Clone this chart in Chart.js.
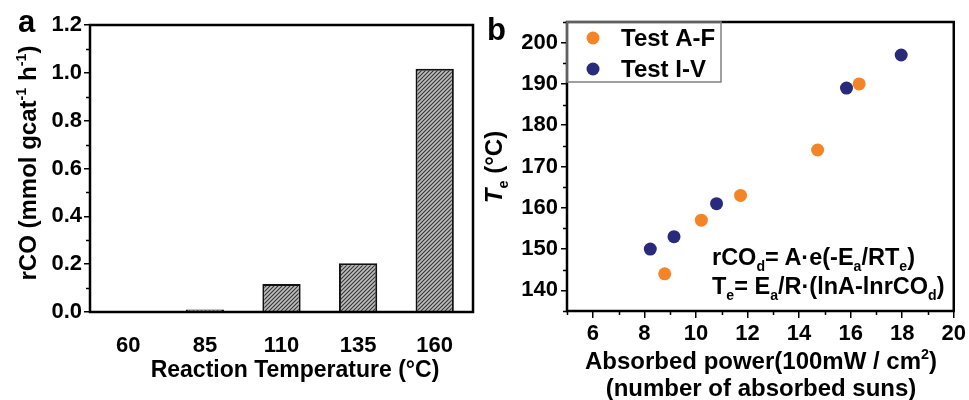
<!DOCTYPE html>
<html>
<head>
<meta charset="utf-8">
<script src="https://cdn.jsdelivr.net/npm/chart.js@4.4.0/dist/chart.umd.min.js"></script>
<style>
  body { margin: 0; background: #fff; }
  #wrap { position: relative; width: 969px; height: 400px; overflow: hidden;
          font-family: 'Liberation Sans', Arial, sans-serif; font-weight: bold; color: #000; }
  canvas { position: absolute; top: 0; }
  #chartA { left: 0; }
  #chartB { left: 480px; }
  .lbl { position: absolute; white-space: nowrap; line-height: 1; }
  .c { transform: translate(-50%, -50%); text-align: center; }
  .r { transform: translate(-50%, -50%) rotate(-90deg); }
  sup { font-size: 0.6em; vertical-align: 0.7em; line-height: 0; }
  sub { font-size: 0.6em; vertical-align: -0.45em; line-height: 0; }
</style>
</head>
<body>
<div id="wrap">
  <canvas id="chartA" width="480" height="400"></canvas>
  <canvas id="chartB" width="489" height="400"></canvas>

  <div class="lbl" style="left:18px; top:6px; font-size:31px;">a</div>
  <div class="lbl r" style="left:28px; top:163px; font-size:24px;">rCO (mmol gcat<sup>-1</sup> h<sup>-1</sup>)</div>
  <div class="lbl c" style="left:295px; top:369px; font-size:23px;">Reaction Temperature (°C)</div>

  <div class="lbl" style="left:487px; top:14px; font-size:31px;">b</div>
  <div class="lbl r" style="left:494px; top:167px; font-size:24px;"><i>T</i><sub>e</sub> (°C)</div>
  <div class="lbl c" style="left:761px; top:374px; font-size:24px; line-height:27px;">Absorbed power(100mW / cm<sup>2</sup>)<br>(number of absorbed suns)</div>
  <div class="lbl" style="left:712px; top:243px; font-size:23.5px; line-height:29px;">rCO<sub>d</sub>= A·e(-E<sub>a</sub>/RT<sub>e</sub>)<br>T<sub>e</sub>= E<sub>a</sub>/R·(lnA-lnrCO<sub>d</sub>)</div>
</div>

<script>
// panel a: CO production rate vs reaction temperature
const temps = ['60', '85', '110', '135', '160'];
const rco = [0, 0.01, 0.117, 0.204, 1.017];
const rcoTicks = [0, 0.2, 0.4, 0.6, 0.8, 1.0, 1.2];

// panel b: equilibrium temperature vs absorbed power
const testAFPower = [8.79, 10.21, 11.73, 14.72, 16.33];
const testAFTemp = [144, 157, 163, 174, 190];
const testIVPower = [8.23, 9.15, 10.80, 15.84, 17.96];
const testIVTemp = [150, 153, 161, 189, 197];
const powerTicks = [6, 8, 10, 12, 14, 16, 18, 20];
const teTicks = [140, 150, 160, 170, 180, 190, 200];

const FONT = "'Liberation Sans', Arial, sans-serif";
const tickFont = { family: FONT, size: 22, weight: 'bold' };

function hatchPattern() {
    const c = document.createElement('canvas');
    c.width = c.height = 4;
    const g = c.getContext('2d');
    g.fillStyle = '#bdbdbd';
    g.fillRect(0, 0, 4, 4);
    g.strokeStyle = '#333';
    g.lineWidth = 1.1;
    g.beginPath();
    g.moveTo(0, 4); g.lineTo(4, 0);
    g.moveTo(-1, 1); g.lineTo(1, -1);
    g.moveTo(3, 5); g.lineTo(5, 3);
    g.stroke();
    return g.createPattern(c, 'repeat');
}

// midpoints between major ticks
function minors(ticks) {
    const out = [];
    for (let i = 0; i < ticks.length - 1; i++) out.push((ticks[i] + ticks[i + 1]) / 2);
    return out;
}

// box around the plot area + minor ticks
const frameAndMinor = {
    id: 'frameAndMinor',
    afterDatasetsDraw(chart, args, opts) {
        const { ctx, chartArea: a } = chart;
        ctx.save();
        ctx.strokeStyle = '#000';
        ctx.lineWidth = 1.5;
        ctx.beginPath();
        (opts.minorY || []).forEach(v => {
            const y = Math.round(chart.scales.y.getPixelForValue(v)) + 0.5;
            ctx.moveTo(a.left - 4, y); ctx.lineTo(a.left, y);
        });
        (opts.minorX || []).forEach(v => {
            const x = Math.round(chart.scales.x.getPixelForValue(v)) + 0.5;
            ctx.moveTo(x, a.bottom); ctx.lineTo(x, a.bottom + 4);
        });
        ctx.stroke();
        ctx.lineWidth = 2.5;
        ctx.strokeRect(a.left, a.top, a.right - a.left, a.bottom - a.top);
        ctx.restore();
    }
};

// boxed legend in the top-left corner of panel b
const boxLegend = {
    id: 'boxLegend',
    afterDraw(chart) {
        const { ctx, chartArea: a } = chart;
        ctx.save();
        ctx.strokeStyle = '#808080';
        ctx.lineWidth = 1.5;
        ctx.strokeRect(a.left, a.top, 154, 60);
        ctx.font = 'bold 24px ' + FONT;
        ctx.textBaseline = 'middle';
        chart.data.datasets.forEach((ds, i) => {
            const y = a.top + 16 + i * 31;
            ctx.fillStyle = ds.backgroundColor;
            ctx.beginPath();
            ctx.arc(a.left + 26, y, 6.5, 0, Math.PI * 2);
            ctx.fill();
            ctx.fillStyle = '#000';
            ctx.fillText(ds.label, a.left + 54, y + 1);
        });
        ctx.restore();
    }
};

new Chart(document.getElementById('chartA'), {
    type: 'bar',
    data: {
        labels: temps,
        datasets: [{
            data: rco,
            backgroundColor: hatchPattern(),
            borderColor: '#111',
            borderWidth: 2,
            borderSkipped: 'bottom',
            barPercentage: 0.5,
            categoryPercentage: 1
        }]
    },
    options: {
        responsive: false,
        animation: false,
        events: [],
        layout: { padding: { top: 25, right: 7, left: 0, bottom: 0 } },
        plugins: {
            legend: { display: false },
            tooltip: { enabled: false },
            frameAndMinor: { minorY: minors(rcoTicks) }
        },
        scales: {
            x: {
                grid: { display: false },
                border: { display: false },
                ticks: { color: '#000', font: tickFont, padding: 13, maxRotation: 0 },
                afterFit: s => { s.height = 88; }
            },
            y: {
                min: 0,
                max: 1.2,
                afterBuildTicks: s => { s.ticks = rcoTicks.map(v => ({ value: v })); },
                ticks: { color: '#000', font: tickFont, padding: 2, callback: v => v.toFixed(1) },
                grid: { drawOnChartArea: false, tickLength: 6, color: '#000', lineWidth: 1.5 },
                border: { display: false },
                afterFit: s => { s.width = 90; }
            }
        }
    },
    plugins: [frameAndMinor]
});

new Chart(document.getElementById('chartB'), {
    type: 'scatter',
    data: {
        datasets: [
            {
                label: 'Test A-F',
                data: testAFPower.map((x, i) => ({ x, y: testAFTemp[i] })),
                backgroundColor: '#f58426',
                pointRadius: 6.5,
                pointBorderWidth: 0
            },
            {
                label: 'Test I-V',
                data: testIVPower.map((x, i) => ({ x, y: testIVTemp[i] })),
                backgroundColor: '#2a2a7c',
                pointRadius: 6.5,
                pointBorderWidth: 0
            }
        ]
    },
    options: {
        responsive: false,
        animation: false,
        events: [],
        layout: { padding: { top: 22, right: 15, left: 0, bottom: 0 } },
        plugins: {
            legend: { display: false },
            tooltip: { enabled: false },
            frameAndMinor: {
                minorY: minors(teTicks).concat([135, 205]),
                minorX: [5, 7, 9, 11, 13, 15, 17, 19]
            }
        },
        scales: {
            x: {
                type: 'linear',
                min: 5,
                max: 20,
                afterBuildTicks: s => { s.ticks = powerTicks.map(v => ({ value: v })); },
                ticks: { color: '#000', font: tickFont, padding: 3, maxRotation: 0 },
                grid: { drawOnChartArea: false, tickLength: 7, color: '#000', lineWidth: 1.5 },
                border: { display: false },
                afterFit: s => { s.height = 89; }
            },
            y: {
                min: 135,
                max: 205,
                afterBuildTicks: s => { s.ticks = teTicks.map(v => ({ value: v })); },
                ticks: { color: '#000', font: tickFont, padding: 3 },
                grid: { drawOnChartArea: false, tickLength: 6, color: '#000', lineWidth: 1.5 },
                border: { display: false },
                afterFit: s => { s.width = 87; }
            }
        }
    },
    plugins: [frameAndMinor, boxLegend]
});
</script>
</body>
</html>
